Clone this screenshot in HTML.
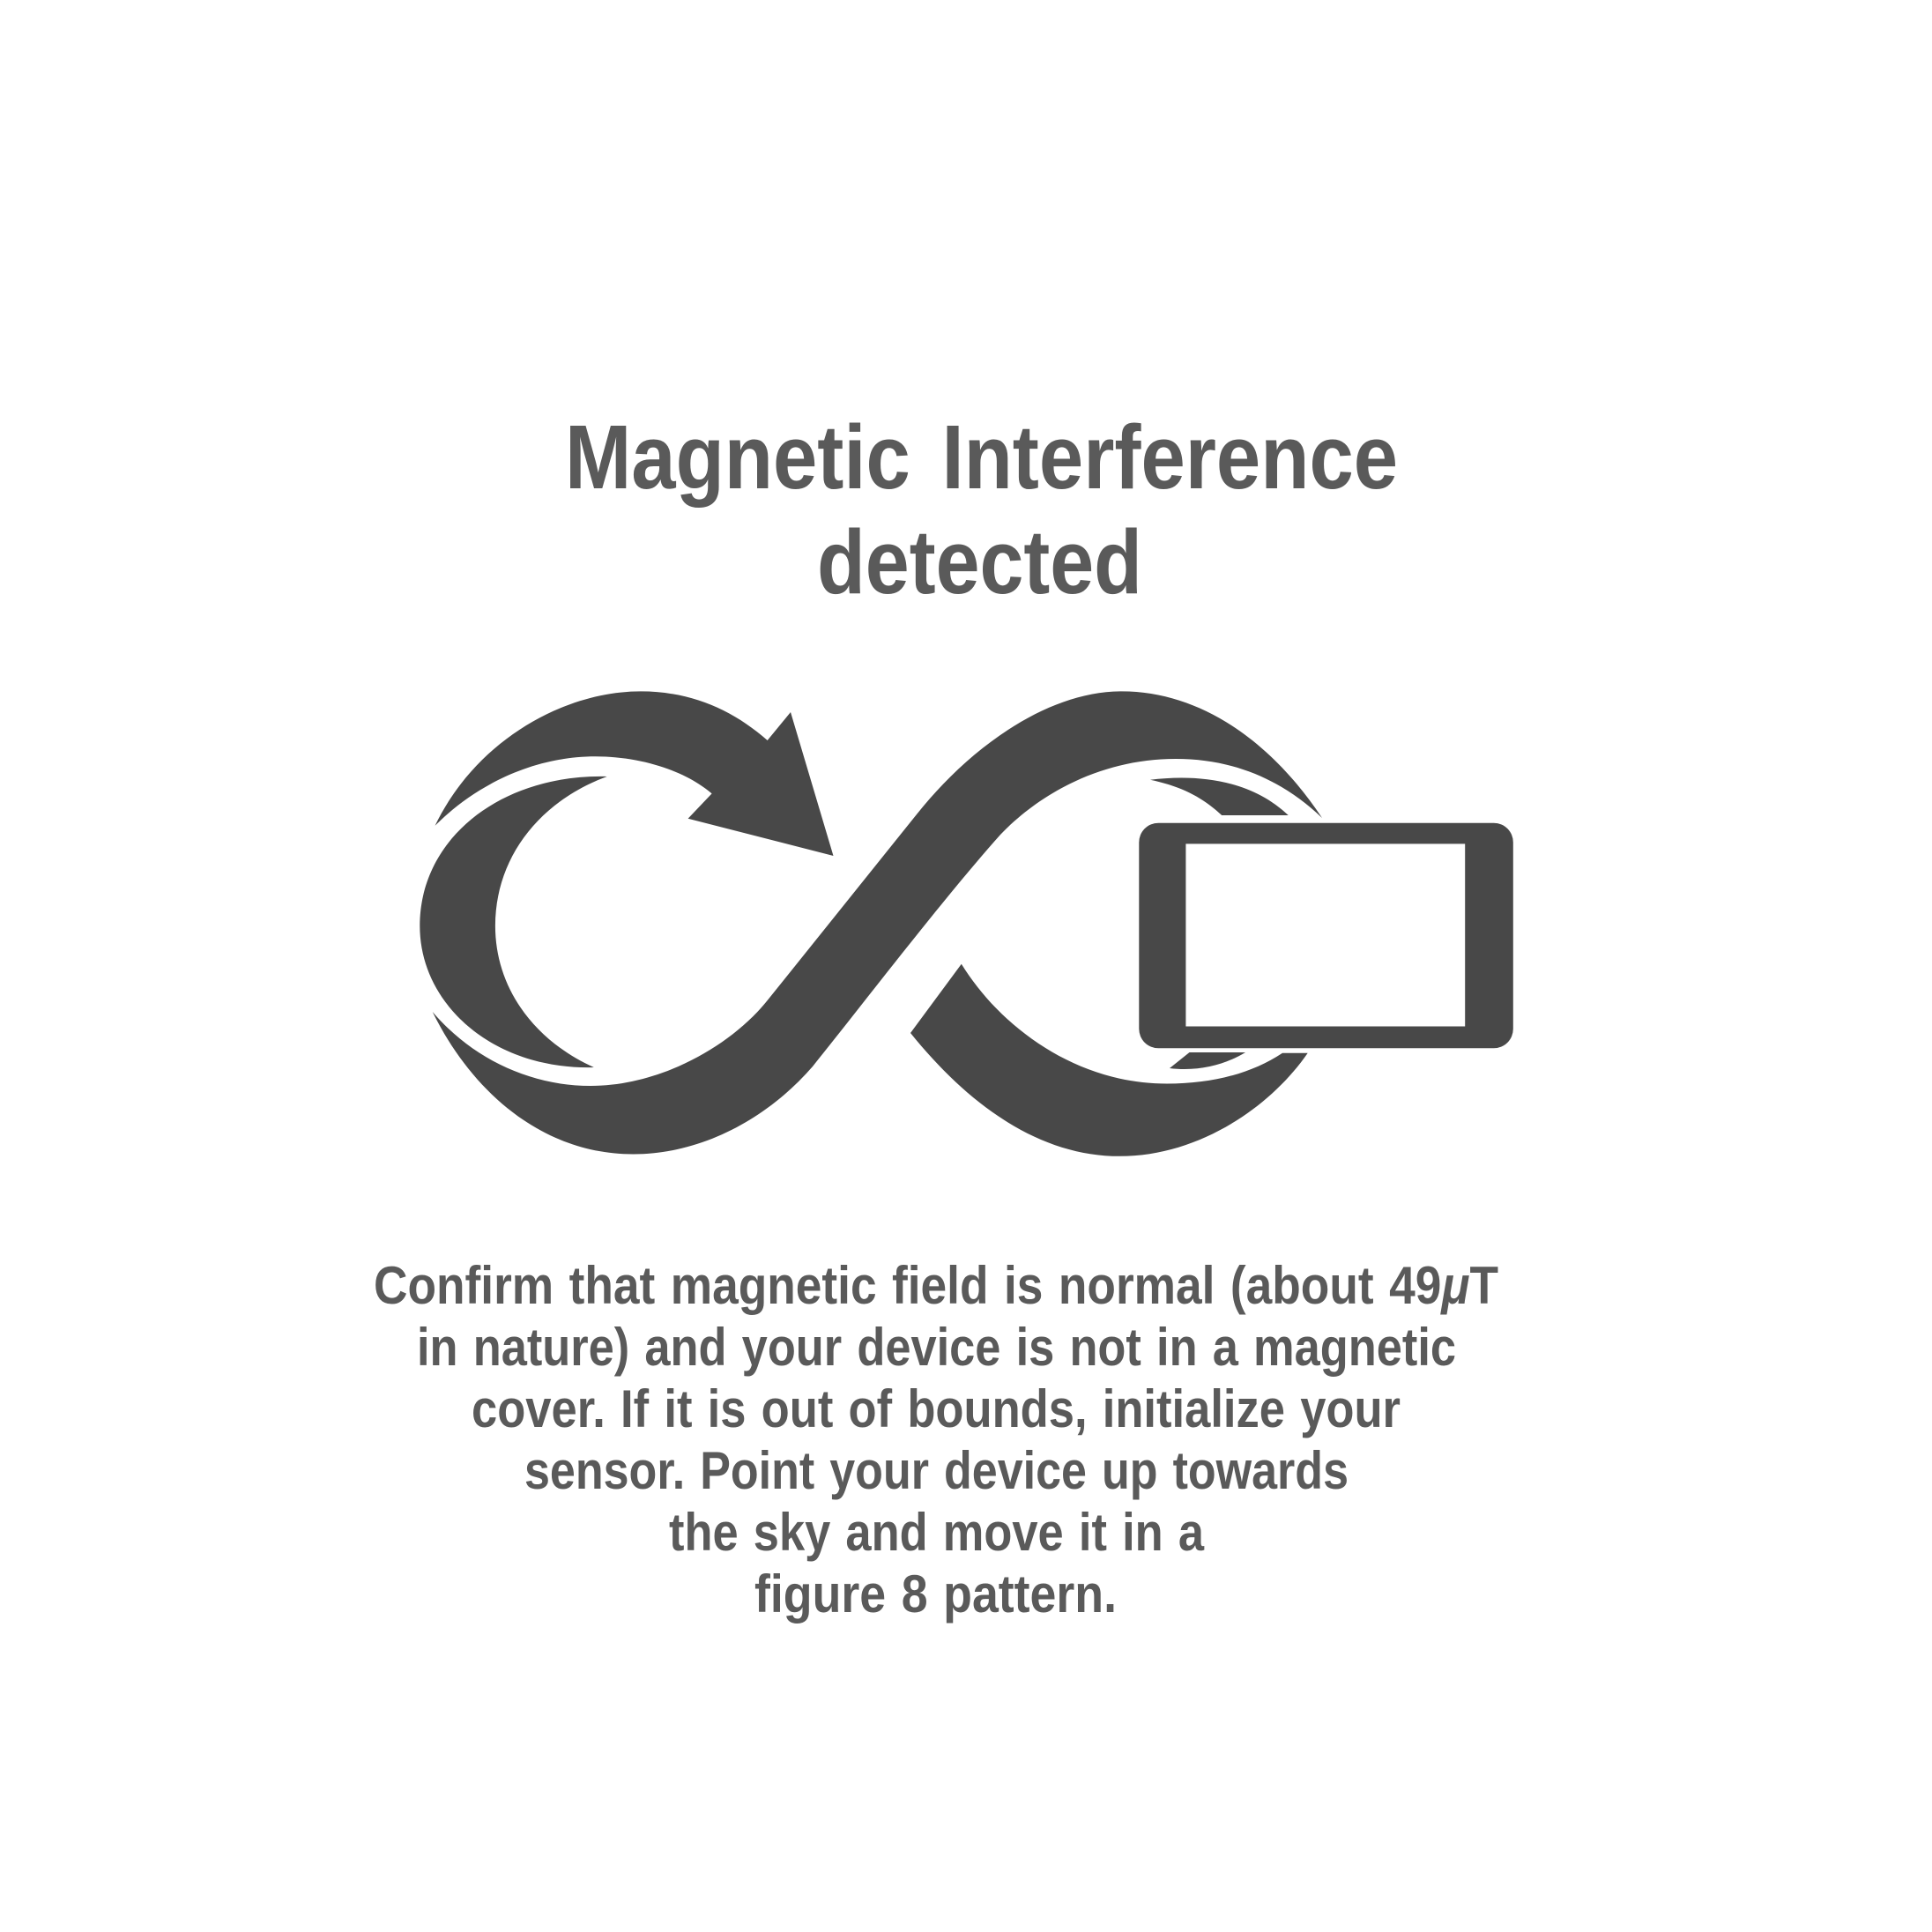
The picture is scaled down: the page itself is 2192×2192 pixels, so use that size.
<!DOCTYPE html>
<html lang="en">
<head>
<meta charset="utf-8">
<title>Magnetic Interference detected</title>
<style>
html,body{margin:0;padding:0;background:#fff;width:2192px;height:2192px;overflow:hidden}
svg{display:block}
text{font-family:"Liberation Sans",sans-serif;font-weight:700;fill:#5a5a5a;font-variant-ligatures:none}
</style>
</head>
<body>
<svg xmlns="http://www.w3.org/2000/svg" width="2192" height="2192" viewBox="0 0 2192 2192">
<rect width="2192" height="2192" fill="#ffffff"/>
<g font-size="103">
<text x="641" y="554" textLength="945" lengthAdjust="spacingAndGlyphs" word-spacing="12">Magnetic Interference</text>
<text x="927" y="673" textLength="369" lengthAdjust="spacingAndGlyphs">detected</text>
</g>
<g fill="#484848">
<path d="M493.6,936.8 C540,840 640,784.4 727,784.4 C785,784.4 832,806 870.7,840 L897,808 L945.5,971 L780.6,928.7 L807.6,900.4 C778,875 728,858.3 675.5,858.3 C600,858.3 535,895 493.6,936.8 Z"/>
<path d="M688.7,881 C570,878 476.3,950 476.3,1050.4 C476.3,1140 560,1214 673.8,1211 C605,1180 561.9,1120 561.9,1050.4 C561.9,975 610,910 688.7,881 Z"/>
<path d="M490.7,1148 C535,1200 600,1232 670,1232 C750,1232 830,1186 870.7,1135 L1040,924 C1102,846 1190,784.4 1272.6,784.4 C1365,784.4 1445,845 1500,928 C1455,885 1400,861 1334,861 C1250,861 1180,900 1135,947 C1070,1020 990,1125 922,1210 C870,1270 795,1309.5 718.6,1309.5 C615,1309.5 535,1238 490.7,1148 Z"/>
<path d="M1090.8,1093.7 C1135,1165 1220,1229.5 1324,1229.5 C1375,1229.5 1420,1218 1455,1194.7 L1483.7,1194.7 C1440,1258 1358,1311.8 1270.4,1311.8 C1180,1311.8 1100,1255 1033,1172 Z"/>
<path d="M1305,884.7 C1360,878 1420,885 1461.7,925 L1386.2,925 C1365,905 1340,892 1305,884.7 Z"/>
<path d="M1349.5,1194 L1413,1194 C1390,1208 1360,1216 1327,1212 Z"/>
</g>
<g>
<rect x="1292.3" y="933.7" width="424.5" height="255.6" rx="22" ry="22" fill="#484848"/>
<rect x="1345.4" y="957.4" width="316.8" height="207.1" fill="#ffffff"/>
</g>
<g font-size="60" word-spacing="3">
<text x="424" y="1479" textLength="1276" lengthAdjust="spacingAndGlyphs">Confirm that magnetic field is normal (about 49<tspan font-style="italic">μ</tspan>T</text>
<text x="473" y="1549" textLength="1179" lengthAdjust="spacingAndGlyphs">in nature) and your device is not in a magnetic</text>
<text x="535" y="1619" textLength="1054" lengthAdjust="spacingAndGlyphs">cover. If it is out of bounds, initialize your</text>
<text x="595" y="1689" textLength="935" lengthAdjust="spacingAndGlyphs">sensor. Point your device up towards</text>
<text x="759" y="1759" textLength="607" lengthAdjust="spacingAndGlyphs">the sky and move it in a</text>
<text x="856" y="1829" textLength="411" lengthAdjust="spacingAndGlyphs">figure 8 pattern.</text>
</g>
</svg>
</body>
</html>
